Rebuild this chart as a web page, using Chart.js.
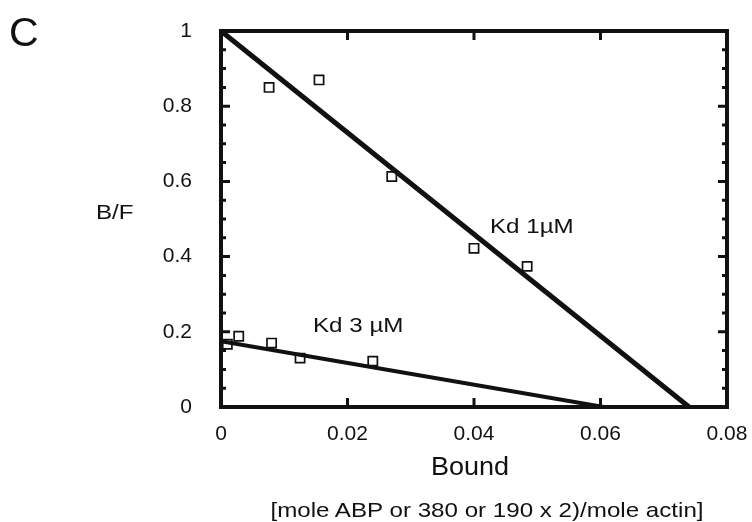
<!DOCTYPE html>
<html lang="en">
<head>
<meta charset="UTF-8">
<title>B/F vs Bound</title>
<script src="https://cdn.jsdelivr.net/npm/chart.js"></script>
<style>
    body { margin: 0; background: #fff; }
    #wrap { position: relative; width: 752px; height: 522px; font-family: 'Liberation Sans', Arial, sans-serif; color: #111; }
    canvas { position: absolute; left: 0; top: 0; }
    .txt { position: absolute; white-space: nowrap; line-height: 1; transform-origin: left center; transform: scaleX(1.15); }
    .ctr { text-align: center; transform-origin: center center; }
</style>
</head>
<body>
<div id="wrap">
    <canvas id="myChart" width="752" height="522"></canvas>
    <div class="txt" style="left:9px; top:12px; font-size:41px; transform:none;">C</div>
    <div class="txt" style="left:96px; top:201px; font-size:21px;">B/F</div>
    <div class="txt" style="left:490px; top:215px; font-size:21px;">Kd 1µM</div>
    <div class="txt" style="left:313px; top:314px; font-size:21px;">Kd 3 µM</div>
    <div class="txt ctr" style="left:370px; width:200px; top:454px; font-size:25px; transform:scaleX(1.08);">Bound</div>
    <div class="txt ctr" style="left:237px; width:500px; top:499px; font-size:21px;">[mole ABP or 380 or 190 x 2)/mole actin]</div>
</div>

<script>
    // データ
    const kd1X = [0.0076, 0.0155, 0.027, 0.040, 0.0484];
    const kd1Y = [0.85, 0.87, 0.613, 0.422, 0.374];
    const kd3X = [0.001, 0.0028, 0.008, 0.0125, 0.024];
    const kd3Y = [0.167, 0.188, 0.170, 0.130, 0.122];
    // 直線（端点）
    const fit1X = [0, 0.074];
    const fit1Y = [1.0, 0];
    const fit3X = [0, 0.0605];
    const fit3Y = [0.175, 0];

    const xTicks = [0, 0.02, 0.04, 0.06, 0.08];
    const yTicks = [0, 0.2, 0.4, 0.6, 0.8, 1];
    const yMinor = 0.05;

    const toPts = (xs, ys) => xs.map((x, i) => ({ x: x, y: ys[i] }));

    // 枠と内向きの目盛り
    const framePlugin = {
        id: 'frame',
        afterDatasetsDraw(chart) {
            const c = chart.ctx;
            const a = chart.chartArea;
            const xs = chart.scales.x;
            const ys = chart.scales.y;
            c.save();
            c.strokeStyle = '#111';
            c.lineWidth = 3;
            // y 目盛り
            for (let v = 0; v <= 1.0001; v += yMinor) {
                const py = ys.getPixelForValue(v);
                const major = Math.abs(v * 5 - Math.round(v * 5)) < 1e-6;
                const len = major ? 9 : 5;
                c.beginPath();
                c.moveTo(a.left, py); c.lineTo(a.left + len, py);
                c.moveTo(a.right, py); c.lineTo(a.right - len, py);
                c.stroke();
            }
            // x 目盛り
            xTicks.forEach(v => {
                const px = xs.getPixelForValue(v);
                c.beginPath();
                c.moveTo(px, a.bottom); c.lineTo(px, a.bottom - 9);
                c.moveTo(px, a.top); c.lineTo(px, a.top + 9);
                c.stroke();
            });
            c.lineWidth = 4;
            c.strokeRect(a.left, a.top, a.right - a.left, a.bottom - a.top);
            c.restore();
        }
    };

    const tickFont = { family: "'Liberation Sans', Arial, sans-serif", size: 21 };

    const ctx = document.getElementById('myChart').getContext('2d');
    const myChart = new Chart(ctx, {
        type: 'scatter',
        data: {
            datasets: [
                {
                    label: 'Kd 1µM fit',
                    data: toPts(fit1X, fit1Y),
                    showLine: true,
                    borderColor: '#111',
                    borderWidth: 5,
                    pointRadius: 0
                },
                {
                    label: 'Kd 3µM fit',
                    data: toPts(fit3X, fit3Y),
                    showLine: true,
                    borderColor: '#111',
                    borderWidth: 4,
                    pointRadius: 0
                },
                {
                    label: 'Kd 1µM',
                    data: toPts(kd1X, kd1Y),
                    pointStyle: 'rect',
                    pointRadius: 6.5,
                    backgroundColor: '#fff',
                    borderColor: '#111',
                    borderWidth: 1.7
                },
                {
                    label: 'Kd 3µM',
                    data: toPts(kd3X, kd3Y),
                    pointStyle: 'rect',
                    pointRadius: 6.5,
                    backgroundColor: '#fff',
                    borderColor: '#111',
                    borderWidth: 1.7
                }
            ]
        },
        options: {
            responsive: false,
            animation: false,
            layout: { padding: { top: 31, right: 25, left: 0, bottom: 0 } },
            plugins: { legend: { display: false }, tooltip: { enabled: false } },
            scales: {
                x: {
                    type: 'linear',
                    min: 0, max: 0.08,
                    afterBuildTicks: s => { s.ticks = xTicks.map(v => ({ value: v })); },
                    afterFit: s => { s.height = 115; s.paddingLeft = 0; s.paddingRight = 0; },
                    grid: { display: false, drawTicks: false },
                    border: { display: false },
                    ticks: {
                        padding: 15,
                        color: '#111',
                        font: tickFont,
                        callback: v => v === 0 ? '0' : v.toFixed(2)
                    }
                },
                y: {
                    type: 'linear',
                    min: 0, max: 1,
                    afterBuildTicks: s => { s.ticks = yTicks.map(v => ({ value: v })); },
                    afterFit: s => { s.width = 221; s.paddingTop = 0; s.paddingBottom = 0; },
                    grid: { display: false, drawTicks: false },
                    border: { display: false },
                    ticks: {
                        padding: 29,
                        color: '#111',
                        font: tickFont,
                        callback: v => (v === 0 || v === 1) ? String(v) : v.toFixed(1)
                    }
                }
            }
        },
        plugins: [framePlugin]
    });
</script>
</body>
</html>
